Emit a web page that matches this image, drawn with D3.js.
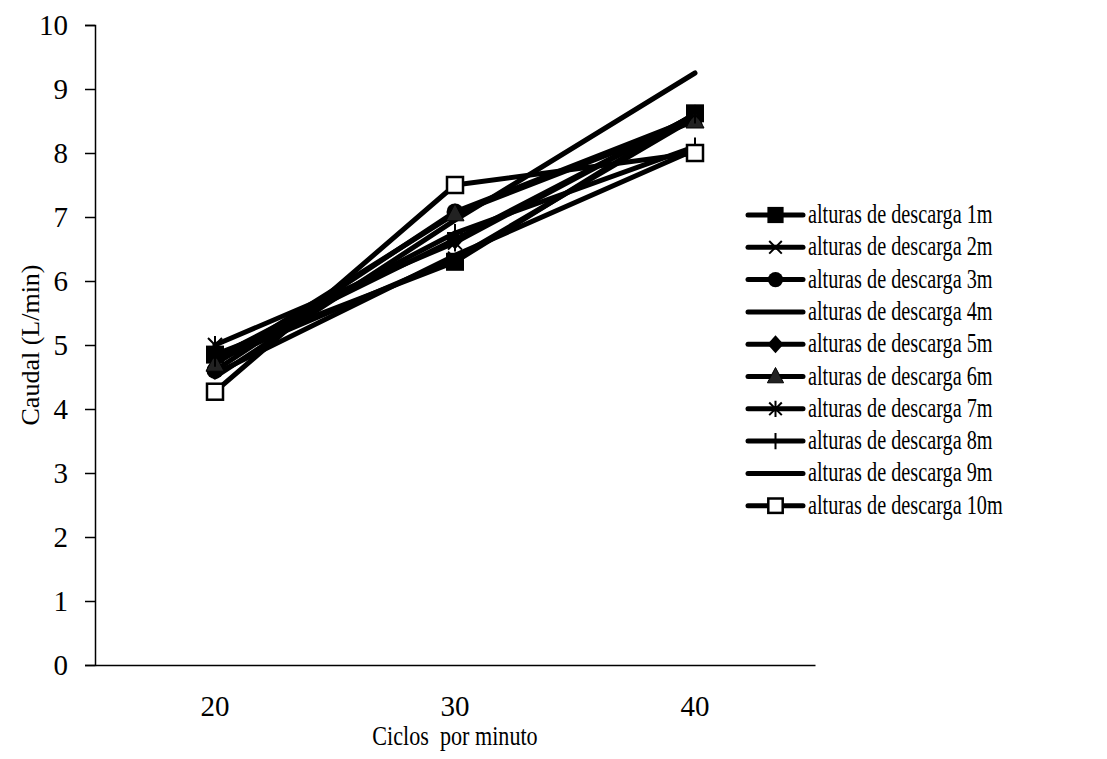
<!DOCTYPE html>
<html>
<head>
<meta charset="utf-8">
<script src="https://cdn.jsdelivr.net/npm/d3@7"></script>
<style>
  html, body { margin: 0; padding: 0; background: #fff; }
  svg { display: block; }
</style>
</head>
<body>
<svg id="chart" width="1107" height="759"></svg>
<script>
// Ciclos por minuto (categorías del eje X)
const categories = ["20", "30", "40"];
const yTicks = [0, 1, 2, 3, 4, 5, 6, 7, 8, 9, 10];

// Caudal (L/min) para cada altura de descarga
const h1m  = [4.85, 6.30, 8.62];
const h2m  = [4.75, 6.35, 8.55];
const h3m  = [4.60, 7.08, 8.55];
const h4m  = [4.50, 6.95, 9.25];
const h5m  = [4.80, 6.65, 8.60];
const h6m  = [4.70, 7.05, 8.50];
const h7m  = [5.00, 6.60, 8.60];
const h8m  = [4.80, 6.75, 8.10];
const h9m  = [4.55, 6.40, 8.05];
const h10m = [4.27, 7.50, 8.00];

const seriesNames = ["alturas de descarga 1m", "alturas de descarga 2m", "alturas de descarga 3m",
  "alturas de descarga 4m", "alturas de descarga 5m", "alturas de descarga 6m",
  "alturas de descarga 7m", "alturas de descarga 8m", "alturas de descarga 9m",
  "alturas de descarga 10m"];
const seriesValues = [h1m, h2m, h3m, h4m, h5m, h6m, h7m, h8m, h9m, h10m];
const markers = ["square", "x", "circle", "none", "diamond", "triangle", "star", "plus", "none", "openSquare"];

const FONT = '"Liberation Serif"';
const svg = d3.select("#chart");
const margin = { left: 95, right: 292, top: 25, bottom: 94 };
const W = 1107, H = 759;

const x = d3.scaleBand().domain(categories).range([margin.left, W - margin.right]);
const y = d3.scaleLinear().domain([0, 10]).range([H - margin.bottom, margin.top]);
const cx = c => x(c) + x.bandwidth() / 2;

// Eje Y
const yAxis = svg.append("g")
  .attr("transform", `translate(${margin.left},0)`)
  .call(d3.axisLeft(y).tickValues(yTicks).tickSize(10).tickPadding(17).tickFormat(d3.format("d")));
yAxis.select(".domain").attr("stroke", "#000").attr("stroke-width", 1.5);
yAxis.selectAll(".tick line").attr("stroke", "#000").attr("stroke-width", 1.5);
yAxis.selectAll(".tick text").style("font-size", "29px").style("font-family", FONT).attr("fill", "#000");

// Eje X
const xAxis = svg.append("g")
  .attr("transform", `translate(0,${y(0)})`)
  .call(d3.axisBottom(x).tickSize(0).tickPadding(30));
xAxis.select(".domain").attr("stroke", "#000").attr("stroke-width", 1.5);
xAxis.selectAll(".tick text").style("font-size", "29px").style("font-family", FONT).attr("fill", "#000");

// Títulos de ejes
svg.append("text")
  .attr("transform", `translate(39,${(y(0) + y(10)) / 2}) rotate(-90)`)
  .attr("text-anchor", "middle")
  .style("font-size", "26px").style("font-family", FONT)
  .text("Caudal (L/min)");

svg.append("g")
  .attr("transform", `translate(${cx("30")},745) scale(0.82,1)`)
  .append("text")
  .attr("text-anchor", "middle")
  .attr("xml:space", "preserve")
  .style("font-size", "27px").style("font-family", FONT)
  .text("Ciclos  por minuto");

// Marcadores
function drawMarker(g, type, px, py, s) {
  s = s || 1;
  switch (type) {
    case "square":
      g.append("rect").attr("x", px - 9 * s).attr("y", py - 9 * s).attr("width", 18 * s).attr("height", 18 * s)
        .attr("fill", "#000");
      break;
    case "openSquare":
      g.append("rect").attr("x", px - 8 * s).attr("y", py - 8 * s).attr("width", 16 * s).attr("height", 16 * s)
        .attr("fill", "#fff").attr("stroke", "#000").attr("stroke-width", 2.5);
      break;
    case "circle":
      g.append("circle").attr("cx", px).attr("cy", py).attr("r", 8.5 * s).attr("fill", "#000");
      break;
    case "diamond":
      g.append("path").attr("d", `M${px},${py - 10 * s}L${px + 9 * s},${py}L${px},${py + 10 * s}L${px - 9 * s},${py}Z`)
        .attr("fill", "#000");
      break;
    case "triangle":
      g.append("path").attr("d", `M${px},${py - 10 * s}L${px + 9 * s},${py + 7 * s}L${px - 9 * s},${py + 7 * s}Z`)
        .attr("fill", "#222").attr("stroke", "#000").attr("stroke-width", 1);
      break;
    case "x":
      g.append("path").attr("d", `M${px - 7 * s},${py - 7 * s}L${px + 7 * s},${py + 7 * s}M${px - 7 * s},${py + 7 * s}L${px + 7 * s},${py - 7 * s}`)
        .attr("stroke", "#000").attr("stroke-width", 2);
      break;
    case "star":
      g.append("path").attr("d", `M${px - 7 * s},${py - 7 * s}L${px + 7 * s},${py + 7 * s}M${px - 7 * s},${py + 7 * s}L${px + 7 * s},${py - 7 * s}M${px},${py - 9 * s}L${px},${py + 9 * s}`)
        .attr("stroke", "#000").attr("stroke-width", 2);
      break;
    case "plus":
      g.append("path").attr("d", `M${px},${py - 9 * s}L${px},${py + 9 * s}M${px - 8 * s},${py}L${px + 8 * s},${py}`)
        .attr("stroke", "#000").attr("stroke-width", 2);
      break;
  }
}

const line = d3.line().x((d, i) => cx(categories[i])).y(d => y(d));
const plot = svg.append("g");

seriesValues.forEach(vals => {
  plot.append("path")
    .datum(vals)
    .attr("d", line)
    .attr("fill", "none")
    .attr("stroke", "#000")
    .attr("stroke-width", 5)
    .attr("stroke-linejoin", "round")
    .attr("stroke-linecap", "round");
});
seriesValues.forEach((vals, k) => {
  const g = plot.append("g");
  vals.forEach((v, i) => drawMarker(g, markers[k], cx(categories[i]), y(v)));
});

// Leyenda
const legend = svg.append("g");
const legX0 = 748, legX1 = 803, legY0 = 215, legDy = 32.3;
seriesNames.forEach((name, k) => {
  const ly = legY0 + k * legDy;
  const g = legend.append("g");
  g.append("line").attr("x1", legX0).attr("x2", legX1).attr("y1", ly).attr("y2", ly)
    .attr("stroke", "#000").attr("stroke-width", 5).attr("stroke-linecap", "round");
  drawMarker(g, markers[k], (legX0 + legX1) / 2, ly, 0.9);
  g.append("g")
    .attr("transform", `translate(808,${ly + 8}) scale(0.75,1)`)
    .append("text")
    .style("font-size", "27px").style("font-family", FONT)
    .text(name);
});
</script>
</body>
</html>
